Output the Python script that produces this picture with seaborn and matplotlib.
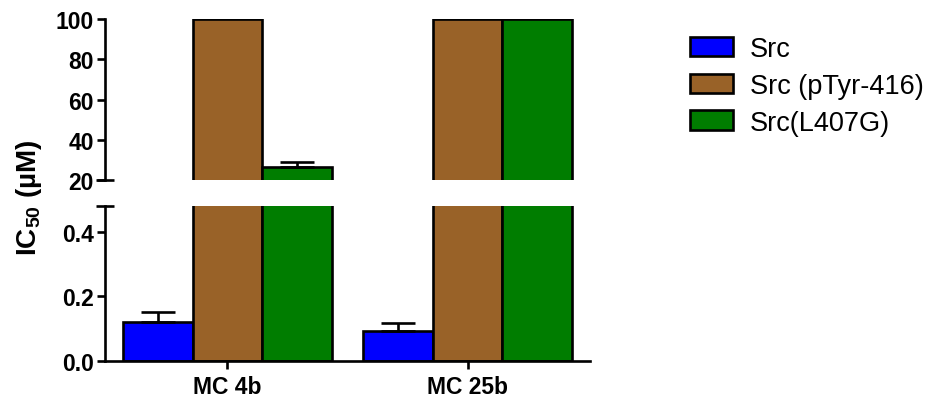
import matplotlib
matplotlib.use("Agg")
import matplotlib.pyplot as plt
import seaborn as sns
import pandas as pd
import numpy as np

# ---- data ----
compounds = ["MC 4b", "MC 25b"]
series = ["Src", "Src (pTyr-416)", "Src(L407G)"]
src_vals = [0.12, 0.094]
src_err = [0.031, 0.024]
ptyr_vals = [100, 100]
ptyr_err = [0, 0]
l407g_vals = [26.5, 100]
l407g_err = [2.5, 0]
colors = ["#0000FF", "#996228", "#007D00"]
top_ticks = [20, 40, 60, 80, 100]
bot_ticks = [0.0, 0.2, 0.4]

rows = []
for s, vals, errs in [(series[0], src_vals, src_err),
                      (series[1], ptyr_vals, ptyr_err),
                      (series[2], l407g_vals, l407g_err)]:
    for c, v, e in zip(compounds, vals, errs):
        rows.append({"compound": c, "series": s, "value": v, "err": e})
df = pd.DataFrame(rows)

sns.set_theme(style="ticks")
plt.rcParams["font.family"] = ["Liberation Sans", "DejaVu Sans"]
plt.rcParams["mathtext.fontset"] = "custom"
plt.rcParams["mathtext.rm"] = "Liberation Sans:bold"
plt.rcParams["mathtext.default"] = "regular"
for k in ("text.color", "axes.labelcolor", "xtick.color", "ytick.color", "axes.edgecolor"):
    plt.rcParams[k] = "black"

fig = plt.figure(figsize=(9.4, 4.06), dpi=100)
W, H = 940, 406
left, right = 105 / W, 590 / W
ax_top = fig.add_axes([left, 1 - 181 / H, right - left, (181 - 20) / H])
ax_bot = fig.add_axes([left, 1 - 362 / H, right - left, (362 - 207) / H])

lw = 1.9
fs = 16.5
palette = dict(zip(series, colors))
for ax in (ax_top, ax_bot):
    sns.barplot(data=df, x="compound", y="value", hue="series", hue_order=series,
                order=compounds, palette=palette, width=0.873, ax=ax,
                edgecolor="black", linewidth=lw, errorbar=None, saturation=1,
                legend=(ax is ax_top))
    # error bars (upper only)
    for cont, s in zip(ax.containers, series):
        sub = df[df.series == s].set_index("compound").loc[compounds]
        xs = [p.get_x() + p.get_width() / 2 for p in cont.patches]
        errs = sub["err"].values
        vals = sub["value"].values
        mask = errs > 0
        if mask.any():
            ax.errorbar(np.array(xs)[mask], vals[mask],
                        yerr=[np.zeros(mask.sum()), errs[mask]],
                        fmt="none", ecolor="black", elinewidth=lw,
                        capsize=12, capthick=lw, zorder=5)
    ax.set_xlim(-0.51, 1.51)
    ax.set_xlabel("")
    ax.set_ylabel("")
    for sp in ("top", "right"):
        ax.spines[sp].set_visible(False)
    ax.spines["left"].set_linewidth(lw)
    ax.spines["bottom"].set_linewidth(lw)
    ax.tick_params(width=lw, length=6, pad=2, colors="black")

ax_top.set_ylim(20, 100)
ax_top.set_yticks(top_ticks)
ax_top.set_yticklabels([f"{v:g}" for v in top_ticks], fontweight="bold", fontsize=fs)
ax_top.spines["bottom"].set_visible(False)
ax_top.tick_params(axis="x", bottom=False, labelbottom=False)

ax_bot.set_ylim(0, 0.48)
ax_bot.set_yticks(bot_ticks)
ax_bot.set_yticklabels([f"{v:.1f}" for v in bot_ticks], fontweight="bold", fontsize=fs)
ax_bot.set_xticks([0, 1])
ax_bot.set_xticklabels(compounds, fontweight="bold", fontsize=fs)
ax_bot.tick_params(axis="x", pad=4)

# break markers
for ax, yv in ((ax_top, 0.0), (ax_bot, 1.0)):
    ax.plot([-0.018, 0.018], [yv, yv], transform=ax.transAxes, color="black",
            lw=lw, clip_on=False, solid_capstyle="butt", zorder=6)

# legend
handles, labels = ax_top.get_legend_handles_labels()
ax_top.get_legend().remove()
leg = fig.legend(handles, labels, loc="upper left", bbox_to_anchor=(690 / W, 1 - 37 / H),
                 frameon=False, fontsize=19.5, handlelength=1.6, handleheight=0.74,
                 labelspacing=0.4, handletextpad=0.6, borderpad=0, borderaxespad=0)

fig.text(29 / W, 1 - 198 / H, r"IC$_{50}$ (µM)", rotation=90, ha="center", va="center",
         fontsize=20, fontweight="bold")

fig.savefig("out.png", dpi=100)
